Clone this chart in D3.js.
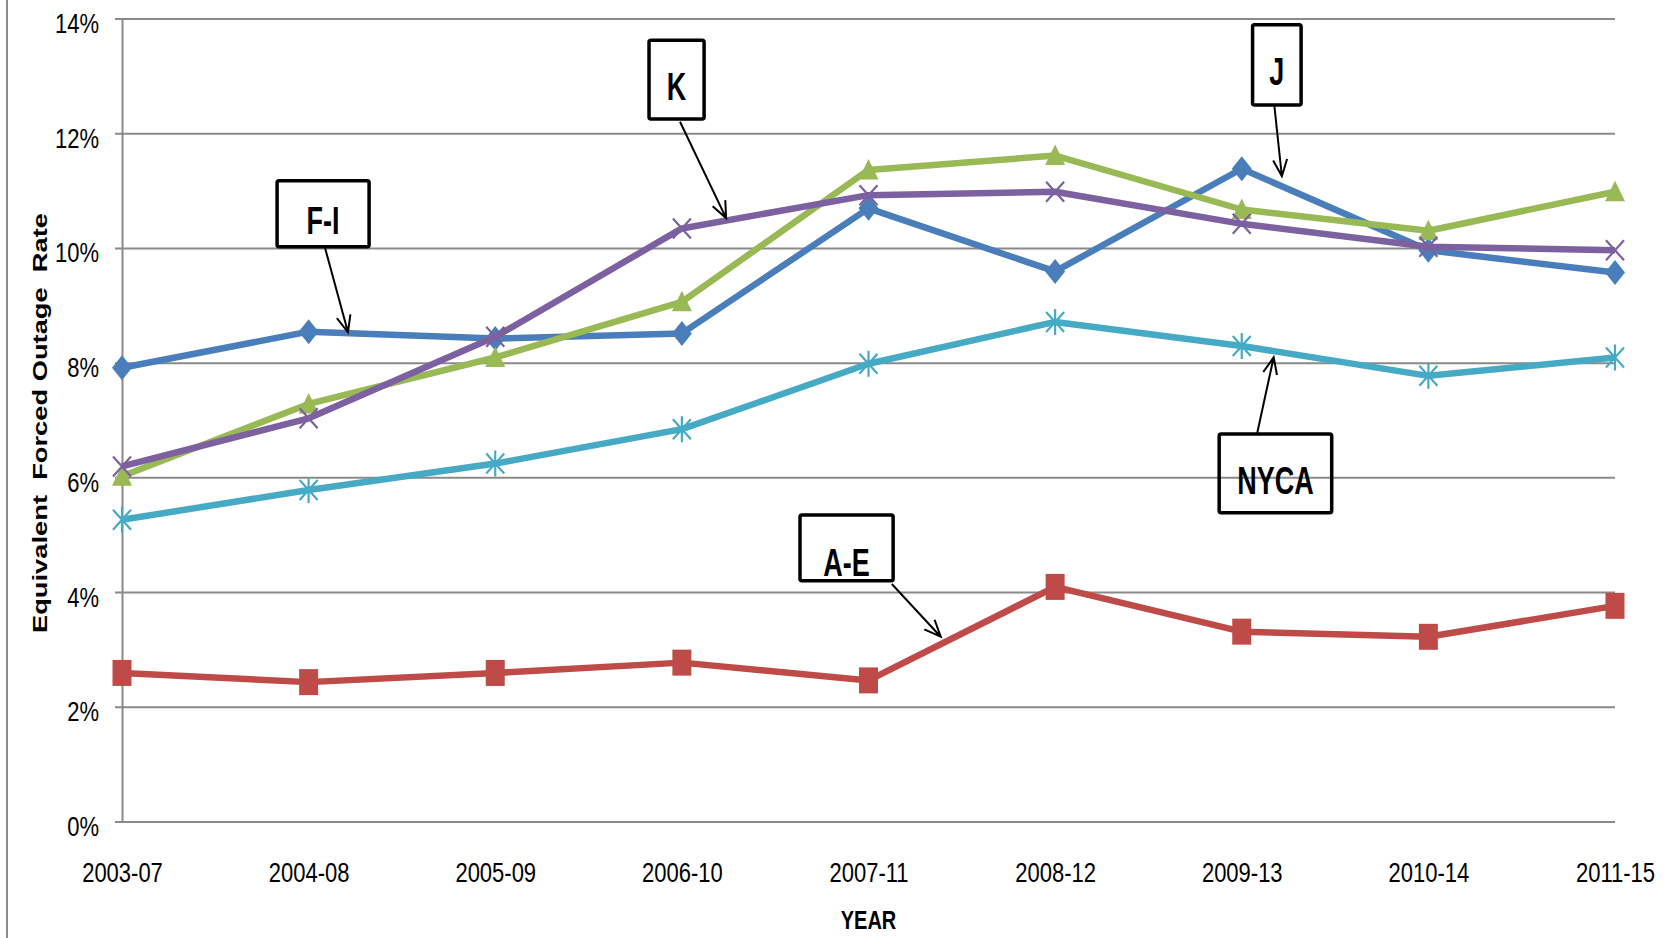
<!DOCTYPE html>
<html>
<head>
<meta charset="utf-8">
<script src="https://cdn.jsdelivr.net/npm/d3@7"></script>
<style>
  body { margin: 0; background: #fff; }
  svg { display: block; }
  text { font-family: "Liberation Sans", Arial, sans-serif; }
</style>
</head>
<body>
<svg id="vis" width="1679" height="938"></svg>
<script>
// periods on the x axis
let periods = ["2003-07", "2004-08", "2005-09", "2006-10", "2007-11", "2008-12", "2009-13", "2010-14", "2011-15"];

// equivalent forced outage rate, percent
let zoneAE   = [2.59, 2.43, 2.59, 2.77, 2.46, 4.09, 3.31, 3.22, 3.76];
let zoneFI   = [7.91, 8.54, 8.42, 8.51, 10.69, 9.59, 11.38, 9.96, 9.57];
let zoneJ    = [6.02, 7.28, 8.09, 9.06, 11.36, 11.61, 10.67, 10.30, 10.98];
let zoneK    = [6.19, 7.03, 8.45, 10.34, 10.92, 10.98, 10.42, 10.02, 9.96];
let zoneNYCA = [5.26, 5.78, 6.24, 6.84, 7.98, 8.71, 8.29, 7.77, 8.09];

let yTicks = [0, 2, 4, 6, 8, 10, 12, 14];

// callouts, in data space: box corners (period index, %), arrow from/to, text baseline
let callouts = [
  { label: "F-I",  x0: 0.831, x1: 1.324, v0: 11.17, v1: 10.02, tv: 10.24, from: [1.088, 10.0],  to: [1.211, 8.53] },
  { label: "K",    x0: 2.824, x1: 3.119, v0: 13.62, v1: 12.25, tv: 12.58, from: [2.990, 12.20], to: [3.237, 10.52] },
  { label: "J",    x0: 6.058, x1: 6.318, v0: 13.89, v1: 12.49, tv: 12.84, from: [6.175, 12.47], to: [6.215, 11.25] },
  { label: "NYCA", x0: 5.879, x1: 6.482, v0: 6.756, v1: 5.384, tv: 5.71,  from: [6.083, 6.773], to: [6.171, 8.093] },
  { label: "A-E",  x0: 3.633, x1: 4.132, v0: 5.343, v1: 4.198, tv: 4.28,  from: [4.125, 4.141], to: [4.387, 3.222] }
];

let series = [
  { name: "A-E",  values: zoneAE,   color: "#BE4B48", marker: "square" },
  { name: "F-I",  values: zoneFI,   color: "#4A7EBB", marker: "diamond" },
  { name: "J",    values: zoneJ,    color: "#98B954", marker: "triangle" },
  { name: "K",    values: zoneK,    color: "#7D60A0", marker: "x" },
  { name: "NYCA", values: zoneNYCA, color: "#46AAC5", marker: "star" }
];

let svg = d3.select("#vis");
let plotLeft = 122, plotRight = 1615, plotTop = 18.5, plotBottom = 821.5;
let gridColor = "#8a8a8a";

let x = d3.scalePoint().domain(d3.range(periods.length)).range([plotLeft, plotRight]);
let y = d3.scaleLinear().domain([0, 14]).range([plotBottom, plotTop]);
let xi = d3.scaleLinear().domain([0, periods.length - 1]).range([plotLeft, plotRight]);

// outer border on the left
svg.append("line")
  .attr("x1", 7).attr("x2", 7).attr("y1", 0).attr("y2", 938)
  .attr("stroke", gridColor).attr("stroke-width", 2);

// y axis + gridlines
let yAxis = svg.append("g")
  .attr("transform", `translate(${plotLeft},0)`)
  .call(d3.axisLeft(y).tickValues(yTicks).tickFormat(d => d + "%").tickSizeOuter(0));
yAxis.select(".domain").attr("stroke", gridColor).attr("stroke-width", 2);
yAxis.selectAll(".tick line")
  .attr("x1", -7).attr("x2", plotRight - plotLeft)
  .attr("stroke", gridColor).attr("stroke-width", 2);
yAxis.selectAll(".tick text")
  .attr("x", -23).attr("dy", "11px")
  .attr("transform", "scale(1,1.27)")
  .attr("font-size", 22).attr("fill", "#000");

// x axis labels
let xAxis = svg.append("g")
  .attr("transform", `translate(0,${plotBottom})`)
  .call(d3.axisBottom(x).tickFormat(i => periods[i]).tickSize(0));
xAxis.select(".domain").remove();
xAxis.selectAll(".tick text")
  .attr("y", 0).attr("dy", "47.6px")
  .attr("transform", "scale(1,1.27)")
  .attr("font-size", 22).attr("fill", "#000");

// axis titles
svg.append("text")
  .attr("transform", `translate(47,${(plotTop + plotBottom) / 2 + 3}) rotate(-90) scale(1.3,1)`)
  .attr("text-anchor", "middle")
  .attr("font-size", 21).attr("font-weight", "bold")
  .attr("xml:space", "preserve")
  .text("Equivalent  Forced Outage  Rate");

svg.append("text")
  .attr("transform", `translate(${(plotLeft + plotRight) / 2},929) scale(1,1.25)`)
  .attr("text-anchor", "middle")
  .attr("font-size", 20).attr("font-weight", "bold")
  .text("YEAR");

// lines
let line = d3.line().x((d, i) => x(i)).y(d => y(d));

function markerPath(kind) {
  if (kind === "diamond") return "M0,-12.5L10,0L0,12.5L-10,0Z";
  if (kind === "square") return "M-9.5,-13H9.5V13H-9.5Z";
  if (kind === "triangle") return "M0,-11L10,9.5L-10,9.5Z";
  if (kind === "x") return "M-9,-10L9,10M9,-10L-9,10";
  return "M-9,-10L9,10M9,-10L-9,10M0,-13V13";
}

series.forEach(s => {
  let g = svg.append("g");
  g.append("path")
    .datum(s.values)
    .attr("d", line)
    .attr("fill", "none")
    .attr("stroke", s.color)
    .attr("stroke-width", 6.5)
    .attr("stroke-linejoin", "round");
  let filled = s.marker === "diamond" || s.marker === "square" || s.marker === "triangle";
  g.selectAll("path.mk")
    .data(s.values)
    .enter()
    .append("path")
    .attr("class", "mk")
    .attr("transform", (d, i) => `translate(${x(i)},${y(d)})`)
    .attr("d", markerPath(s.marker))
    .attr("fill", filled ? s.color : "none")
    .attr("stroke", s.color)
    .attr("stroke-width", filled ? 0 : 2.2);
});

// callouts
let notes = svg.append("g");
callouts.forEach(c => {
  notes.append("rect")
    .attr("x", xi(c.x0)).attr("y", y(c.v0))
    .attr("width", xi(c.x1) - xi(c.x0)).attr("height", y(c.v1) - y(c.v0))
    .attr("rx", 2)
    .attr("fill", "none").attr("stroke", "#000").attr("stroke-width", 3.5);

  notes.append("text")
    .attr("transform", `translate(${(xi(c.x0) + xi(c.x1)) / 2},${y(c.tv)}) scale(1,1.45)`)
    .attr("text-anchor", "middle")
    .attr("font-size", 27).attr("font-weight", "bold")
    .text(c.label);

  let x1 = xi(c.from[0]), y1 = y(c.from[1]);
  let x2 = xi(c.to[0]), y2 = y(c.to[1]);
  let a = Math.atan2(y1 - y2, x1 - x2);
  let len = 18, spread = 0.4;
  let h1 = [x2 + len * Math.cos(a + spread), y2 + len * Math.sin(a + spread)];
  let h2 = [x2 + len * Math.cos(a - spread), y2 + len * Math.sin(a - spread)];
  notes.append("path")
    .attr("d", `M${x1},${y1}L${x2},${y2}M${h1[0]},${h1[1]}L${x2},${y2}L${h2[0]},${h2[1]}`)
    .attr("fill", "none").attr("stroke", "#000").attr("stroke-width", 2);
});
</script>
</body>
</html>
